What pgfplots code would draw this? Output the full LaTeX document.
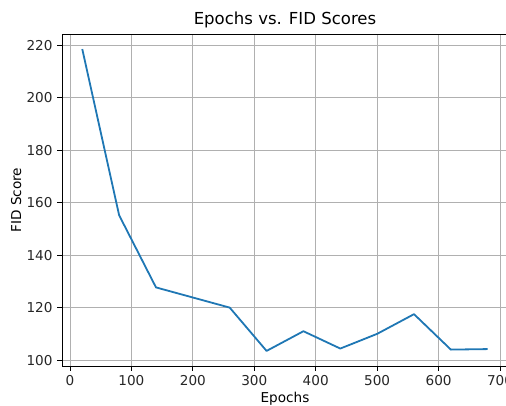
\documentclass[border=0pt]{standalone}
\usepackage{pgfplots}
\pgfplotsset{compat=1.18}
\usepackage{fontspec}
\setmainfont{DejaVu Sans}
\usetikzlibrary{calc}
\definecolor{mplblue}{HTML}{1F77B4}
\definecolor{mplgrid}{HTML}{B0B0B0}
\definecolor{mpltext}{HTML}{262626}
\begin{document}
\begin{tikzpicture}
\begin{axis}[
  scale only axis,
  width=334.5pt, height=249pt,
  xmin=-13, xmax=713,
  ymin=97.75, ymax=224.25,
  xtick={0,100,...,700},
  ytick={100,120,...,220},
  grid=major,
  major grid style={mplgrid, line width=0.6pt},
  axis line style={black, line width=0.6pt},
  tick style={black, line width=0.6pt},
  tick align=outside,
  major tick length=3.6pt,
  xtick pos=bottom, ytick pos=left,
  ticklabel style={font=\fontsize{10.2}{12}\selectfont, text=mpltext},
  /pgf/number format/assume math mode=true,
  /pgf/number format/1000 sep={},
  title={Epochs vs. FID Scores},
  title style={font=\fontsize{12.4}{14}\selectfont, yshift=-5pt},
  xlabel={Epochs},
  ylabel={FID Score},
  label style={font=\fontsize{10.2}{12}\selectfont},
  xlabel style={yshift=2pt},
  ylabel style={yshift=-3pt},
]
\addplot[mplblue, line width=1.35pt, line join=round] coordinates {
  (20,218.5) (80,155.2) (140,127.7) (260,120.0) (320,103.5) (380,111.0)
  (440,104.4) (500,110.0) (560,117.5) (620,104.0) (680,104.2)
};
\end{axis}
\pgfresetboundingbox
\path ($(current axis.south west)+(-46.5pt,-29.25pt)$) rectangle ($(current axis.north east)+(-1.5pt,25.5pt)$);
\end{tikzpicture}
\end{document}
